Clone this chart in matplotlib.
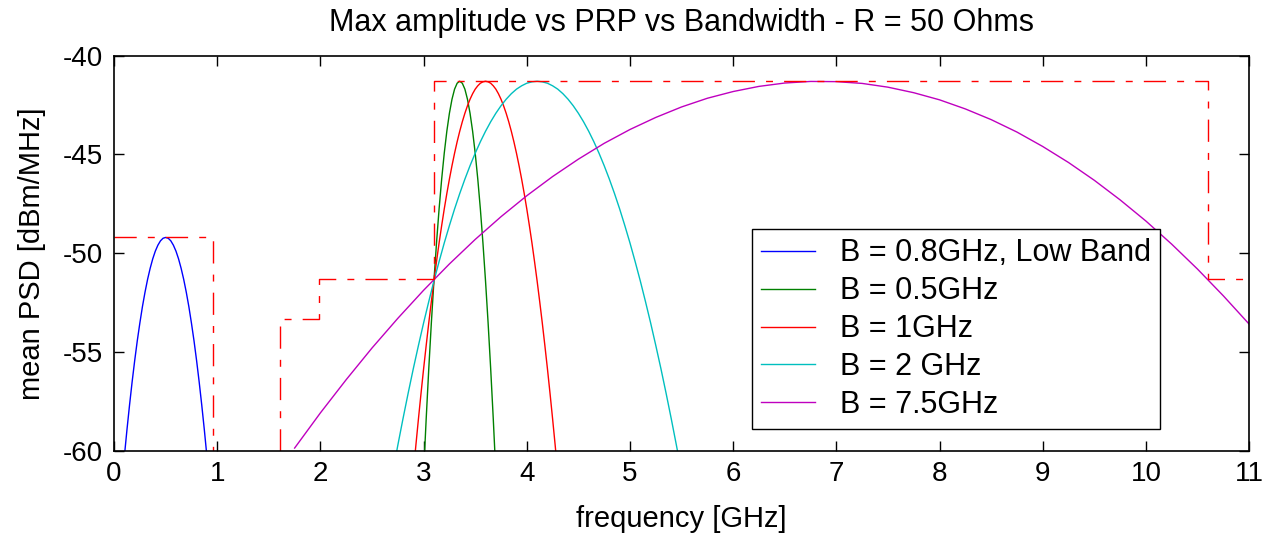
import numpy as np
import matplotlib
matplotlib.use('Agg')
import matplotlib.pyplot as plt

# frequency grids (GHz) and mean PSD (dBm/MHz)
f_low = np.linspace(0.1, 0.9, 33)
psd_low = [-60.27, -58.93, -57.68, -56.51, -55.43, -54.43, -53.53, -52.70,
           -51.97, -51.32, -50.76, -50.28, -49.89, -49.59, -49.37, -49.24,
           -49.20,
           -49.24, -49.37, -49.59, -49.89, -50.28, -50.76, -51.32, -51.97,
           -52.70, -53.53, -54.43, -55.43, -56.51, -57.68, -58.93, -60.27]

f_05 = np.linspace(3.0, 3.7, 29)
psd_05 = [-61.10, -58.37, -55.84, -53.52, -51.40, -49.48, -47.76, -46.25,
          -44.94, -43.83, -42.92, -42.21, -41.70, -41.40,
          -41.30,
          -41.40, -41.70, -42.21, -42.92, -43.83, -44.94, -46.25, -47.76,
          -49.48, -51.40, -53.52, -55.84, -58.37, -61.10]

f_1 = np.linspace(2.9, 4.3, 57)
psd_1 = [-61.10, -59.71, -58.37, -57.08, -55.84, -54.66, -53.52, -52.44,
         -51.40, -50.42, -49.48, -48.60, -47.76, -46.98, -46.25, -45.57,
         -44.94, -44.36, -43.83, -43.35, -42.92, -42.54, -42.21, -41.93,
         -41.70, -41.53, -41.40, -41.33,
         -41.30,
         -41.33, -41.40, -41.53, -41.70, -41.93, -42.21, -42.54, -42.92,
         -43.35, -43.83, -44.36, -44.94, -45.57, -46.25, -46.98, -47.76,
         -48.60, -49.48, -50.42, -51.40, -52.44, -53.52, -54.66, -55.84,
         -57.08, -58.37, -59.71, -61.10]

f_2 = np.linspace(2.7, 5.5, 57)
psd_2 = [-61.10, -59.71, -58.37, -57.08, -55.84, -54.66, -53.52, -52.44,
         -51.40, -50.42, -49.48, -48.60, -47.76, -46.98, -46.25, -45.57,
         -44.94, -44.36, -43.83, -43.35, -42.92, -42.54, -42.21, -41.93,
         -41.70, -41.53, -41.40, -41.33,
         -41.30,
         -41.33, -41.40, -41.53, -41.70, -41.93, -42.21, -42.54, -42.92,
         -43.35, -43.83, -44.36, -44.94, -45.57, -46.25, -46.98, -47.76,
         -48.60, -49.48, -50.42, -51.40, -52.44, -53.52, -54.66, -55.84,
         -57.08, -58.37, -59.71, -61.10]

f_75 = np.linspace(1.75, 11.0, 38)
psd_75 = [-59.85, -58.07, -56.39, -54.79, -53.29, -51.87, -50.54, -49.30,
          -48.15, -47.09, -46.12, -45.24, -44.44, -43.74, -43.13, -42.60,
          -42.16, -41.82, -41.56, -41.39, -41.31, -41.32, -41.41, -41.60,
          -41.88, -42.24, -42.70, -43.24, -43.87, -44.60, -45.41, -46.31,
          -47.30, -48.37, -49.54, -50.80, -52.15, -53.58]

# emission masks
mask_low_f = [0.0, 0.96, 0.96]
mask_low_psd = [-49.2, -49.2, -60.0]
mask_uwb_f = [1.61, 1.61, 1.99, 1.99, 3.1, 3.1, 10.6, 10.6, 11.0]
mask_uwb_psd = [-60.0, -53.3, -53.3, -51.3, -51.3, -41.3, -41.3, -51.3, -51.3]

labels = ['B = 0.8GHz, Low Band', 'B = 0.5GHz', 'B = 1GHz', 'B = 2 GHz', 'B = 7.5GHz']

plt.rcParams['font.family'] = ['Liberation Sans', 'DejaVu Sans']
plt.rcParams['axes.unicode_minus'] = False

fig = plt.figure(figsize=(12.63, 5.34), dpi=100)
ax = fig.add_axes([0.0903, 0.1554, 0.8987, 0.7406])

ax.plot(f_low, psd_low, color=(0, 0, 1), lw=1, label=labels[0])
ax.plot(f_05, psd_05, color=(0, 0.5, 0), lw=1, label=labels[1])
ax.plot(f_1, psd_1, color=(1, 0, 0), lw=1, label=labels[2])
ax.plot(f_2, psd_2, color=(0, 0.75, 0.75), lw=1, label=labels[3])
ax.plot(f_75, psd_75, color=(0.75, 0, 0.75), lw=1, label=labels[4])

for mf, mp in [(mask_low_f, mask_low_psd), (mask_uwb_f, mask_uwb_psd)]:
    ln, = ax.plot(mf, mp, color=(1, 0, 0), lw=1)
    ln.set_dashes([16, 8, 5, 8])

ax.set_xlim(0, 11)
ax.set_ylim(-60, -40)
ax.set_xticks(range(0, 12))
ax.set_yticks([-60, -55, -50, -45, -40])
ax.tick_params(direction='in', top=True, right=True, length=7, width=1, labelsize=20)
ax.tick_params(axis='x', pad=7.5)
ax.tick_params(axis='y', pad=8)
for s in ax.spines.values():
    s.set_linewidth(1.2)

ax.set_xlabel('frequency [GHz]', fontsize=21, labelpad=13)
ax.set_ylabel('mean PSD [dBm/MHz]', fontsize=21, labelpad=12)
ax.set_title('Max amplitude vs PRP vs Bandwidth - R = 50 Ohms', pad=18, fontsize=22)

leg = ax.legend(loc='upper left', bbox_to_anchor=(0.562, 0.561), borderaxespad=0,
                fancybox=False, framealpha=1, edgecolor='black', fontsize=22,
                handlelength=1.77, handletextpad=0.8, labelspacing=0.26, borderpad=0.3)
leg.get_frame().set_linewidth(1)

fig.savefig('out.png', dpi=100)
